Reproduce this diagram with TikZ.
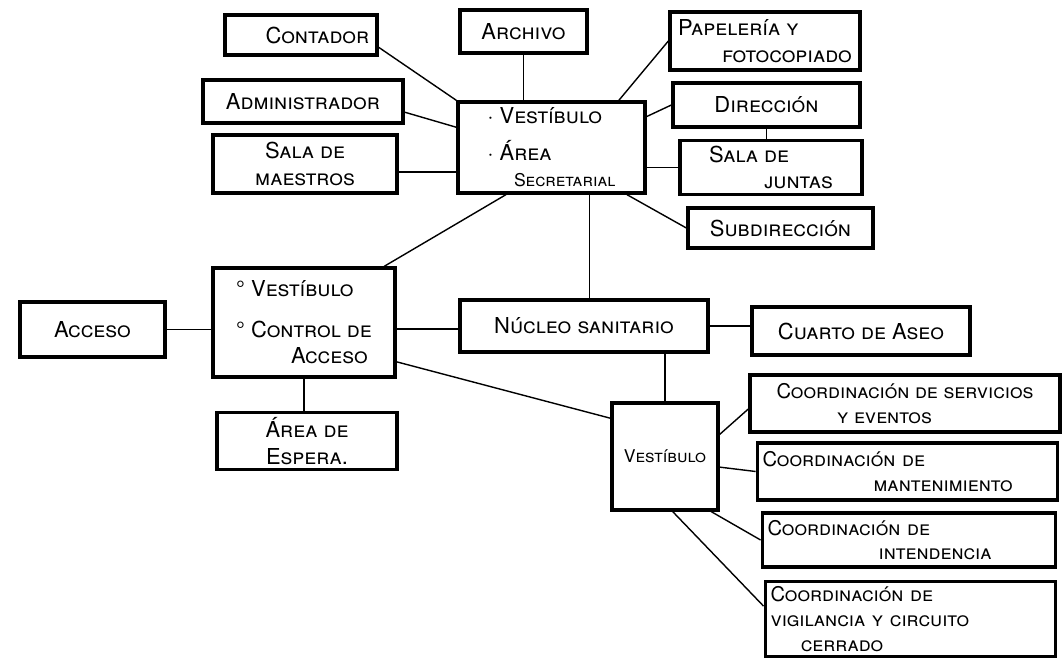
\documentclass[tikz,border=0pt]{standalone}
\usepackage{fontspec}
\setmainfont{TeX Gyre Heros}
\begin{document}
\begin{tikzpicture}[x=0.02cm, y=-0.02cm,
  every node/.style={font=\fontsize{12.5}{15}\selectfont\scshape},
  room/.style={draw, line width=1.9pt, inner sep=3pt, align=center},
  coord/.style={room, align=left, font=\fontsize{11.5}{14}\selectfont\scshape},
  link/.style={line width=0.8pt}]
  \useasboundingbox (0,0) rectangle (1063,658);

  % Upper block, around the secretarial area
  \node[room, minimum width=3.74cm, minimum height=1.82cm, align=left] (secr) at (551.5,147.5) {$\cdot$ Vestíbulo\\[6pt]$\cdot$ Área\\\hspace*{1.2em}{\fontsize{10}{11}\selectfont Secretarial}};
  \node[room, minimum width=3.04cm, minimum height=0.8cm] (contador) at (301,35) {\hspace*{1.5em}Contador};
  \node[room, minimum width=2.54cm, minimum height=0.86cm] (archivo) at (523.5,31.5) {Archivo};
  \node[room, minimum width=3.8cm, minimum height=1.16cm, align=left] (papeleria) at (765,41) {Papelería y\\\hspace*{2em}fotocopiado};
  \node[room, minimum width=4.0cm, minimum height=0.86cm] (admin) at (303,101.5) {Administrador};
  \node[room, minimum width=3.68cm, minimum height=1.16cm] (maestros) at (305,164) {Sala de\\maestros};
  \node[room, minimum width=3.74cm, minimum height=0.88cm] (direccion) at (766.5,105) {Dirección};
  \node[room, minimum width=3.64cm, minimum height=1.02cm, align=left] (juntas) at (771,167.5) {Sala de\\\hspace*{2.5em}juntas};
  \node[room, minimum width=3.7cm, minimum height=0.8cm] (subdir) at (780.5,228) {Subdirección};

  % Access block
  \node[room, minimum width=3.64cm, minimum height=2.18cm, align=left] (control) at (304,322.5) {° Vestíbulo\\[8pt]° Control de\\\hspace*{2.5em}Acceso};
  \node[room, minimum width=2.9cm, minimum height=1.1cm] (acceso) at (92.5,329.5) {Acceso};
  \node[room, minimum width=3.6cm, minimum height=1.14cm] (espera) at (307,441) {Área de\\Espera.};
  \node[room, minimum width=4.96cm, minimum height=1.04cm] (nucleo) at (584,326) {Núcleo sanitario};
  \node[room, minimum width=4.36cm, minimum height=0.96cm] (aseo) at (861,331) {Cuarto de Aseo};

  % Coordination block
  \node[room, minimum width=2.12cm, minimum height=2.14cm, font=\fontsize{10}{12}\selectfont\scshape] (vest) at (665,456.5) {Vestíbulo};
  \node[coord, minimum width=6.2cm, minimum height=1.14cm] (servicios) at (905,403.5) {Coordinación de servicios\\\hspace*{3em}y eventos};
  \node[coord, text width=5.8cm, minimum height=1.14cm] (mant) at (907.5,471.5) {Coordinación de\\\hspace*{5.5em}mantenimiento};
  \node[coord, text width=5.66cm, minimum height=1.08cm] (intend) at (909,540) {Coordinación de\\\hspace*{5.5em}intendencia};
  \node[coord, text width=5.6cm, minimum height=1.48cm] (vigil) at (910.5,619) {Coordinación de\\vigilancia y circuito\\\hspace*{1.5em}cerrado};

  % Connectors
  \draw[link] (contador.-9) -- (secr.north west);
  \draw[link] (archivo.south) -- (archivo.south |- secr.north);
  \draw[link] (secr.35) -- (papeleria.west);
  \draw[link] (admin.-6) -- (secr.168);
  \draw[link] (maestros.-5) -- (maestros.-5 -| secr.west);
  \draw[link] (secr.18) -- (direccion.west);
  \draw[link] (direccion.south) -- (direccion.south |- juntas.north);
  \draw[link] (juntas.west) -- (juntas.west -| secr.east);
  \draw[link] (secr.-32) -- (subdir.west);
  \draw[link] (secr.-134) -- (control.35);
  \draw[link] (secr.-51) -- (secr.-51 |- nucleo.north);
  \draw[link] (acceso.east) -- (acceso.east -| control.west);
  \draw[link] (control.-4) -- (control.-4 -| nucleo.west);
  \draw[link] (control.south) -- (control.south |- espera.north);
  \draw[link] (nucleo.east) -- (nucleo.east -| aseo.west);
  \draw[link] (vest.north |- nucleo.south) -- (vest.north);
  \draw[link] (control.-23) -- (vest.145);
  \draw[link] (vest.22) -- (servicios.182);
  \draw[link] (vest.-11) -- (mant.west);
  \draw[link] (vest.-50) -- (intend.west);
  \draw[link] (vest.-82) -- (vigil.175);
\end{tikzpicture}
\end{document}
